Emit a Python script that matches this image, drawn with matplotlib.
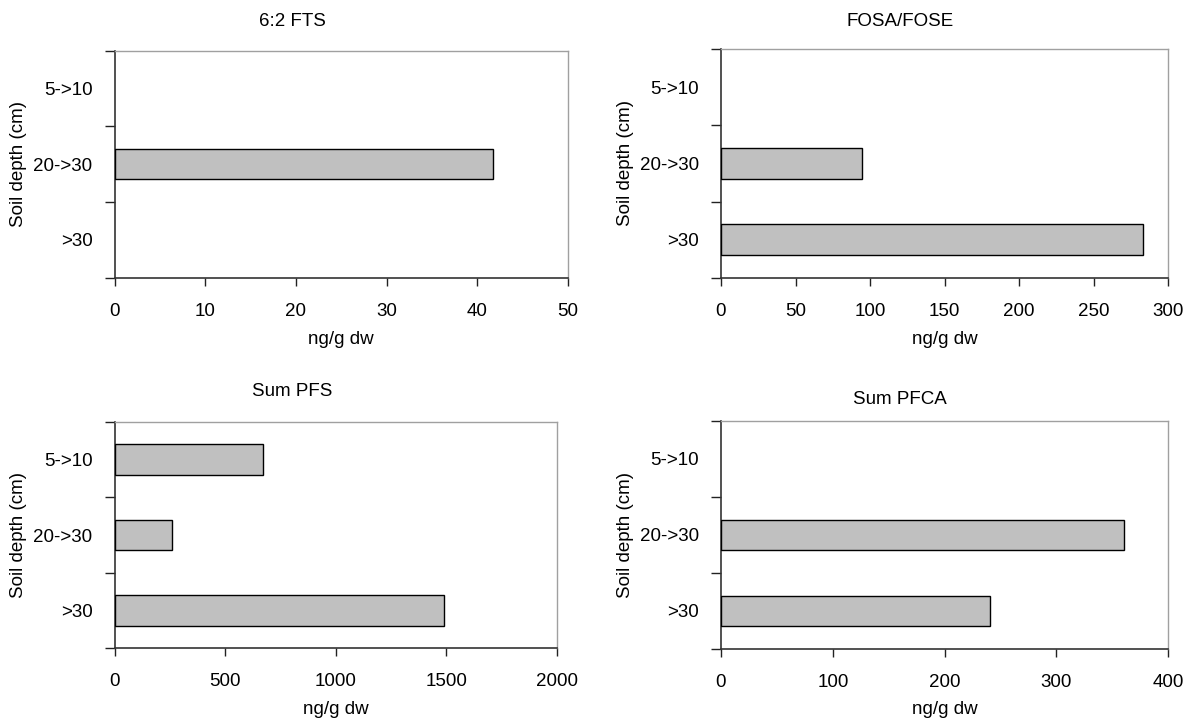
import matplotlib
matplotlib.use("Agg")
import matplotlib.pyplot as plt
from matplotlib.ticker import FixedLocator

plt.rcParams['font.family'] = ['Liberation Sans', 'DejaVu Sans']

depths = ["5->10", "20->30", ">30"]
titles = ["6:2 FTS", "FOSA/FOSE", "Sum PFS", "Sum PFCA"]
fts_62 = [0, 41.7, 0]
fosa_fose = [0, 94.8, 283]
sum_pfs = [671, 258, 1489]
sum_pfca = [0, 360, 240.5]
xmaxes = [50, 300, 2000, 400]
xsteps = [10, 50, 500, 100]
xlabel = "ng/g dw"
ylabel = "Soil depth (cm)"

W, H = 1195, 722
fig = plt.figure(figsize=(W / 100, H / 100), dpi=100)

def px_box(l, t, r, b):
    return [l / W, 1 - b / H, (r - l) / W, (b - t) / H]

boxes = [px_box(114.7, 50.7, 567.7, 277.7),
         px_box(721, 49.3, 1168.3, 277.7),
         px_box(114.7, 421.7, 556.7, 648.3),
         px_box(721, 420.7, 1168.3, 648.7)]
title_pos = [(292, 22), (900, 22), (292, 392), (900, 400)]
xlab_y = [339, 339, 710, 710]
ylab_x = [19, 626, 19, 626]

series = [fts_62, fosa_fose, sum_pfs, sum_pfca]
FS = 13.5

for i, (box, vals) in enumerate(zip(boxes, series)):
    ax = fig.add_axes(box)
    ypos = list(range(len(depths)))
    yb = [y for y, v in zip(ypos, vals) if v > 0]
    vb = [v for v in vals if v > 0]
    ax.barh(yb, vb, height=0.4, color="#C0C0C0", edgecolor="black", linewidth=1.0, zorder=3)
    ax.set_ylim(len(depths) - 0.5, -0.5)
    ax.set_xlim(0, xmaxes[i])
    ax.set_xticks([k * xsteps[i] for k in range(int(xmaxes[i] / xsteps[i]) + 1)])
    ax.set_yticks(ypos)
    ax.set_yticklabels(depths)
    ax.yaxis.set_minor_locator(FixedLocator([-0.5, 0.5, 1.5, 2.5]))
    ax.tick_params(axis='y', which='major', length=0, pad=16, labelsize=FS)
    ax.tick_params(axis='y', which='minor', length=7, width=1.0, direction='out', color='#222222')
    ax.tick_params(axis='x', which='major', length=6, width=1.0, direction='out', pad=12,
                   labelsize=FS, color='#222222')
    for s in ['left', 'bottom']:
        ax.spines[s].set_color('#333333')
        ax.spines[s].set_linewidth(1.2)
    for s in ['top', 'right']:
        ax.spines[s].set_color('#A0A0A0')
        ax.spines[s].set_linewidth(1.0)
    tx, ty = title_pos[i]
    fig.text(tx / W, 1 - ty / H, titles[i], ha='center', va='center', fontsize=FS)
    cx = (box[0] + box[2] / 2)
    fig.text(cx, 1 - xlab_y[i] / H, xlabel, ha='center', va='center', fontsize=FS)
    cy = box[1] + box[3] / 2
    fig.text(ylab_x[i] / W, cy, ylabel, ha='center', va='center', rotation=90, fontsize=FS)

fig.savefig("out.png", dpi=100)
